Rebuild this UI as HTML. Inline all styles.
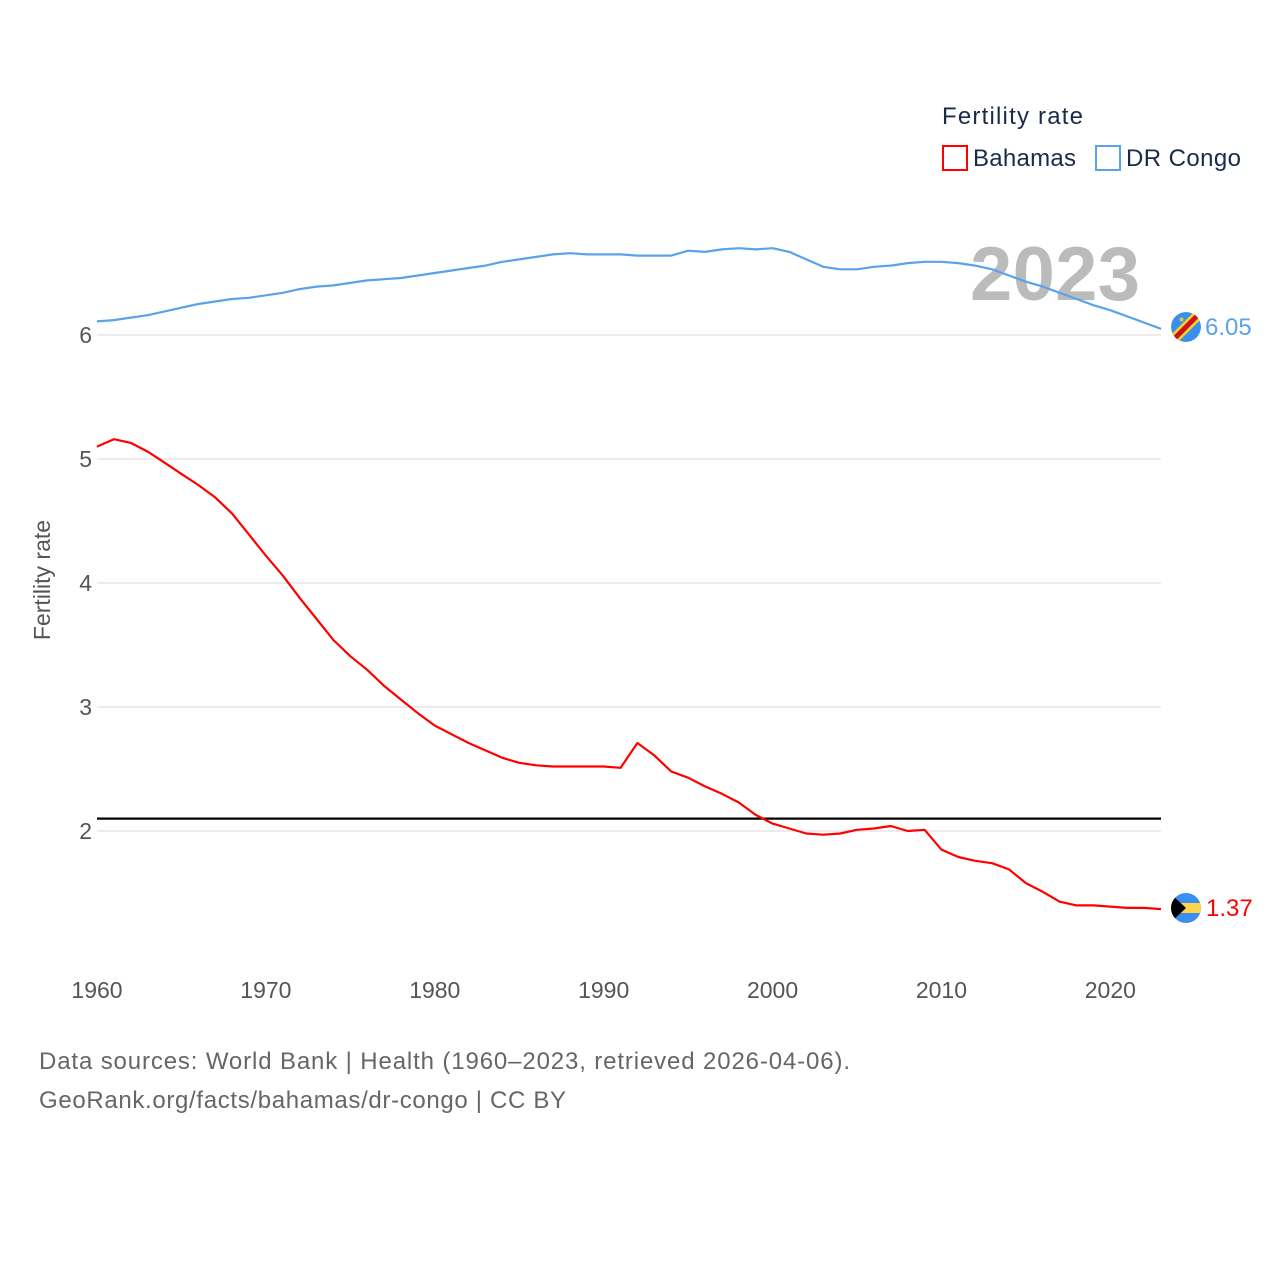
<!DOCTYPE html>
<html><head><meta charset="utf-8"><style>
html,body{margin:0;padding:0;background:#fff;}
svg text{font-family:"Liberation Sans",sans-serif;}
</style></head><body>
<svg width="1280" height="1280" viewBox="0 0 1280 1280" xmlns="http://www.w3.org/2000/svg">
<defs>
<clipPath id="c1"><circle cx="1186" cy="327" r="15"/></clipPath>
<clipPath id="c2"><circle cx="1186" cy="908" r="15"/></clipPath>
</defs>
<g id="grid"></g>
<g id="yticks"></g>
<g id="xticks"></g>
<text x="50" y="580" transform="rotate(-90 50 580)" text-anchor="middle" font-size="23" fill="#555">Fertility rate</text>
<text x="1055" y="300" text-anchor="middle" font-size="76" font-weight="bold" fill="#bbb" textLength="170">2023</text>
<g id="series"></g>
<g clip-path="url(#c1)">
<circle cx="1186" cy="327" r="15" fill="#3a8ef0"/>
<line x1="1170" y1="343" x2="1202" y2="311" stroke="#f7d618" stroke-width="10"/>
<line x1="1170" y1="343" x2="1202" y2="311" stroke="#ce1021" stroke-width="5"/>
<text x="1178" y="322" font-size="8" fill="#f7d618">★</text>
</g>
<text x="1205" y="335" font-size="24" fill="#5aa2ea">6.05</text>
<g clip-path="url(#c2)">
<rect x="1170" y="892" width="32" height="32" fill="#3a8ef0"/>
<rect x="1170" y="903" width="32" height="10" fill="#ffd34a"/>
<polygon points="1170,893 1186,908 1170,923" fill="#000"/>
</g>
<text x="1206" y="916" font-size="24" fill="#f00">1.37</text>
<text x="942" y="124" font-size="24" fill="#1a2b4a" textLength="141">Fertility rate</text>
<g>
<rect x="943" y="146" width="24" height="24" fill="none" stroke="#f00" stroke-width="2"/>
<text x="973" y="166" font-size="24" fill="#1a2b4a" textLength="103">Bahamas</text></g>
<g>
<rect x="1096" y="146" width="24" height="24" fill="none" stroke="#5aa2ea" stroke-width="2"/>
<text x="1126" y="166" font-size="24" fill="#1a2b4a" textLength="115">DR Congo</text></g>
<text x="39" y="1069" font-size="24" fill="#666" textLength="811">Data sources: World Bank | Health (1960–2023, retrieved 2026-04-06).</text>
<text x="39" y="1108" font-size="24" fill="#666" textLength="527">GeoRank.org/facts/bahamas/dr-congo | CC BY</text>
</svg>
<script>
const years=[];for(let y=1960;y<=2023;y++)years.push(y);
const bahamas=[5.10,5.16,5.13,5.06,4.97,4.88,4.79,4.69,4.56,4.39,4.22,4.06,3.88,3.71,3.54,3.41,3.30,3.17,3.06,2.95,2.85,2.78,2.71,2.65,2.59,2.55,2.53,2.52,2.52,2.52,2.52,2.51,2.71,2.61,2.48,2.43,2.36,2.30,2.23,2.13,2.06,2.02,1.98,1.97,1.98,2.01,2.02,2.04,2.00,2.01,1.85,1.79,1.76,1.74,1.69,1.58,1.51,1.43,1.40,1.40,1.39,1.38,1.38,1.37];
const drc=[6.11,6.12,6.14,6.16,6.19,6.22,6.25,6.27,6.29,6.30,6.32,6.34,6.37,6.39,6.40,6.42,6.44,6.45,6.46,6.48,6.50,6.52,6.54,6.56,6.59,6.61,6.63,6.65,6.66,6.65,6.65,6.65,6.64,6.64,6.64,6.68,6.67,6.69,6.70,6.69,6.70,6.67,6.61,6.55,6.53,6.53,6.55,6.56,6.58,6.59,6.59,6.58,6.56,6.53,6.48,6.43,6.39,6.34,6.29,6.24,6.20,6.15,6.10,6.05];
const yTicks=[2,3,4,5,6];
const xTicks=[1960,1970,1980,1990,2000,2010,2020];
const replacement=[2.1];
const X=v=>97+(v-1960)*(1161-97)/63;
const Y=v=>335+(6-v)*124;
const NS='http://www.w3.org/2000/svg';
function mk(tag,attrs,parent,txt){const e=document.createElementNS(NS,tag);for(const k in attrs)e.setAttribute(k,attrs[k]);if(txt!==undefined)e.textContent=txt;document.getElementById(parent).appendChild(e);return e;}
yTicks.forEach(t=>{
 const l=mk('line',{x1:97,x2:1161,y1:Y(t),y2:Y(t),stroke:'#e6e6e6','stroke-width':1.5},'grid');
 
 
 const tx=mk('text',{x:92,y:Y(t)+8,'text-anchor':'end','font-size':23,fill:'#555'},'yticks',String(t));
 
 
});
xTicks.forEach(t=>{
 const tx=mk('text',{x:X(t),y:998,'text-anchor':'middle','font-size':23,fill:'#555'},'xticks',String(t));
 
 
});
const rl=mk('line',{x1:97,x2:1161,y1:Y(replacement[0]),y2:Y(replacement[0]),stroke:'#000','stroke-width':2.2},'series');


function path(vals,color,name){
 const d=vals.map((v,i)=>(i?'L':'M')+X(years[i]).toFixed(1)+','+Y(v).toFixed(1)).join('');
 const p=mk('path',{d:d,fill:'none',stroke:color,'stroke-width':2.2,'stroke-linejoin':'round'},'series');
 
 
}
path(drc,'#5aa2ea','drc-line');
path(bahamas,'#f00','bahamas-line');
</script>
</body></html>
